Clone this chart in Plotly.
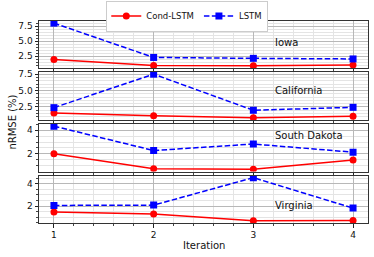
import plotly.graph_objects as go
from plotly.subplots import make_subplots

iterations = [1, 2, 3, 4]
states = ["Iowa", "California", "South Dakota", "Virginia"]
cond_lstm = {
    "Iowa": [1.95, 0.95, 0.9, 1.05],
    "California": [1.6, 1.15, 0.85, 1.1],
    "South Dakota": [2.0, 0.74, 0.69, 1.49],
    "Virginia": [1.48, 1.3, 0.68, 0.71],
}
lstm = {
    "Iowa": [8.0, 2.3, 2.15, 2.05],
    "California": [2.4, 7.5, 2.0, 2.45],
    "South Dakota": [4.34, 2.28, 2.83, 2.14],
    "Virginia": [2.06, 2.09, 4.55, 1.82],
}
y_ticks = {
    "Iowa": [2.5, 5.0, 7.5],
    "California": [2.5, 5.0, 7.5],
    "South Dakota": [2, 4],
    "Virginia": [2, 4],
}
label_pos = {"Iowa": 0.55, "California": 0.61, "South Dakota": 0.75, "Virginia": 0.36}

W, H = 374, 257
L, R, T, B = 38.5, 6, 21, 34
ph = H - T - B
panels_px = [(21, 68), (72, 120), (124, 171.5), (175.5, 223)]
domains = [((223 - b) / ph, (223 - t) / ph) for t, b in panels_px]

fig = make_subplots(rows=4, cols=1, shared_xaxes=False)

RED = "#ff0000"
BLUE = "#0000ff"
for i, s in enumerate(states):
    r = i + 1
    fig.add_trace(go.Scatter(x=iterations, y=cond_lstm[s], mode="lines+markers",
                             name="Cond-LSTM", showlegend=(i == 0), legendgroup="c",
                             line=dict(color=RED, width=1.5),
                             marker=dict(symbol="circle", size=7, color=RED)),
                  row=r, col=1)
    fig.add_trace(go.Scatter(x=iterations, y=lstm[s], mode="lines+markers",
                             name="LSTM", showlegend=(i == 0), legendgroup="l",
                             line=dict(color=BLUE, width=1.5, dash="5.5px,2.4px"),
                             marker=dict(symbol="square", size=7, color=BLUE)),
                  row=r, col=1)
    vals = cond_lstm[s] + lstm[s]
    lo, hi = min(vals), max(vals)
    pad = (hi - lo) * 0.05
    yname = "yaxis" if r == 1 else f"yaxis{r}"
    xname = "xaxis" if r == 1 else f"xaxis{r}"
    fig.layout[yname].update(
        domain=list(domains[i]), range=[lo - pad, hi + pad],
        tickvals=y_ticks[s], ticktext=[str(v) for v in y_ticks[s]],
        ticks="outside", ticklen=3.5, tickwidth=0.8, tickcolor="#222",
        tickfont=dict(family="DejaVu Sans", size=9, color="#111"),
        showline=True, linecolor="#333", linewidth=1, mirror=True,
        showgrid=True, gridcolor="#b8b8b8", gridwidth=0.8,
        minor=dict(dtick=0.5, tick0=0, showgrid=True, gridcolor="#e4e4e4",
                   gridwidth=0.6, ticks="outside", ticklen=2,
                   tickcolor="#444"),
        zeroline=False, automargin=False,
    )
    fig.layout[xname].update(
        domain=[0, 1], range=[0.85, 4.15],
        tickvals=iterations, ticktext=[str(v) for v in iterations],
        showticklabels=(r == 4),
        ticks="outside", ticklen=3.5, tickwidth=0.8, tickcolor="#222",
        tickfont=dict(family="DejaVu Sans", size=9, color="#111"),
        showline=True, linecolor="#333", linewidth=1, mirror=True,
        showgrid=True, gridcolor="#b8b8b8", gridwidth=0.8,
        minor=dict(dtick=0.2, tick0=0, showgrid=True, gridcolor="#e4e4e4",
                   gridwidth=0.6, ticks="outside", ticklen=2,
                   tickcolor="#444"),
        zeroline=False, automargin=False,
    )
    fig.add_annotation(text=s, x=3.2, xref=f"x{'' if r == 1 else r}",
                       y=label_pos[s], yref=f"y{'' if r == 1 else r} domain",
                       xanchor="left", yanchor="middle", showarrow=False,
                       font=dict(family="DejaVu Sans", size=10, color="#111"))

fig.add_annotation(text="nRMSE (%)", x=(11 - L) / (W - L - R), y=0.5,
                   xref="paper", yref="paper", textangle=-90, showarrow=False,
                   xanchor="center", yanchor="middle",
                   font=dict(family="DejaVu Sans", size=10, color="#111"))
fig.add_annotation(text="Iteration", x=0.5, y=(223 - 245) / ph,
                   xref="paper", yref="paper", showarrow=False,
                   xanchor="center", yanchor="middle",
                   font=dict(family="DejaVu Sans", size=10, color="#111"))

fig.update_layout(
    width=W, height=H,
    margin=dict(l=L, r=R, t=T, b=B, autoexpand=False),
    paper_bgcolor="white", plot_bgcolor="white",
    legend=dict(orientation="h", x=(187 - L) / (W - L - R), xanchor="center",
                y=1 + 20.5 / ph, yanchor="top",
                bordercolor="#cccccc", borderwidth=1, bgcolor="white",
                font=dict(family="DejaVu Sans", size=8.5, color="#111"),
                itemwidth=30, tracegroupgap=0),
    showlegend=True,
)

fig.write_html("out.html", config={"displayModeBar": False},
               post_script="document.body.style.margin='0px';")
